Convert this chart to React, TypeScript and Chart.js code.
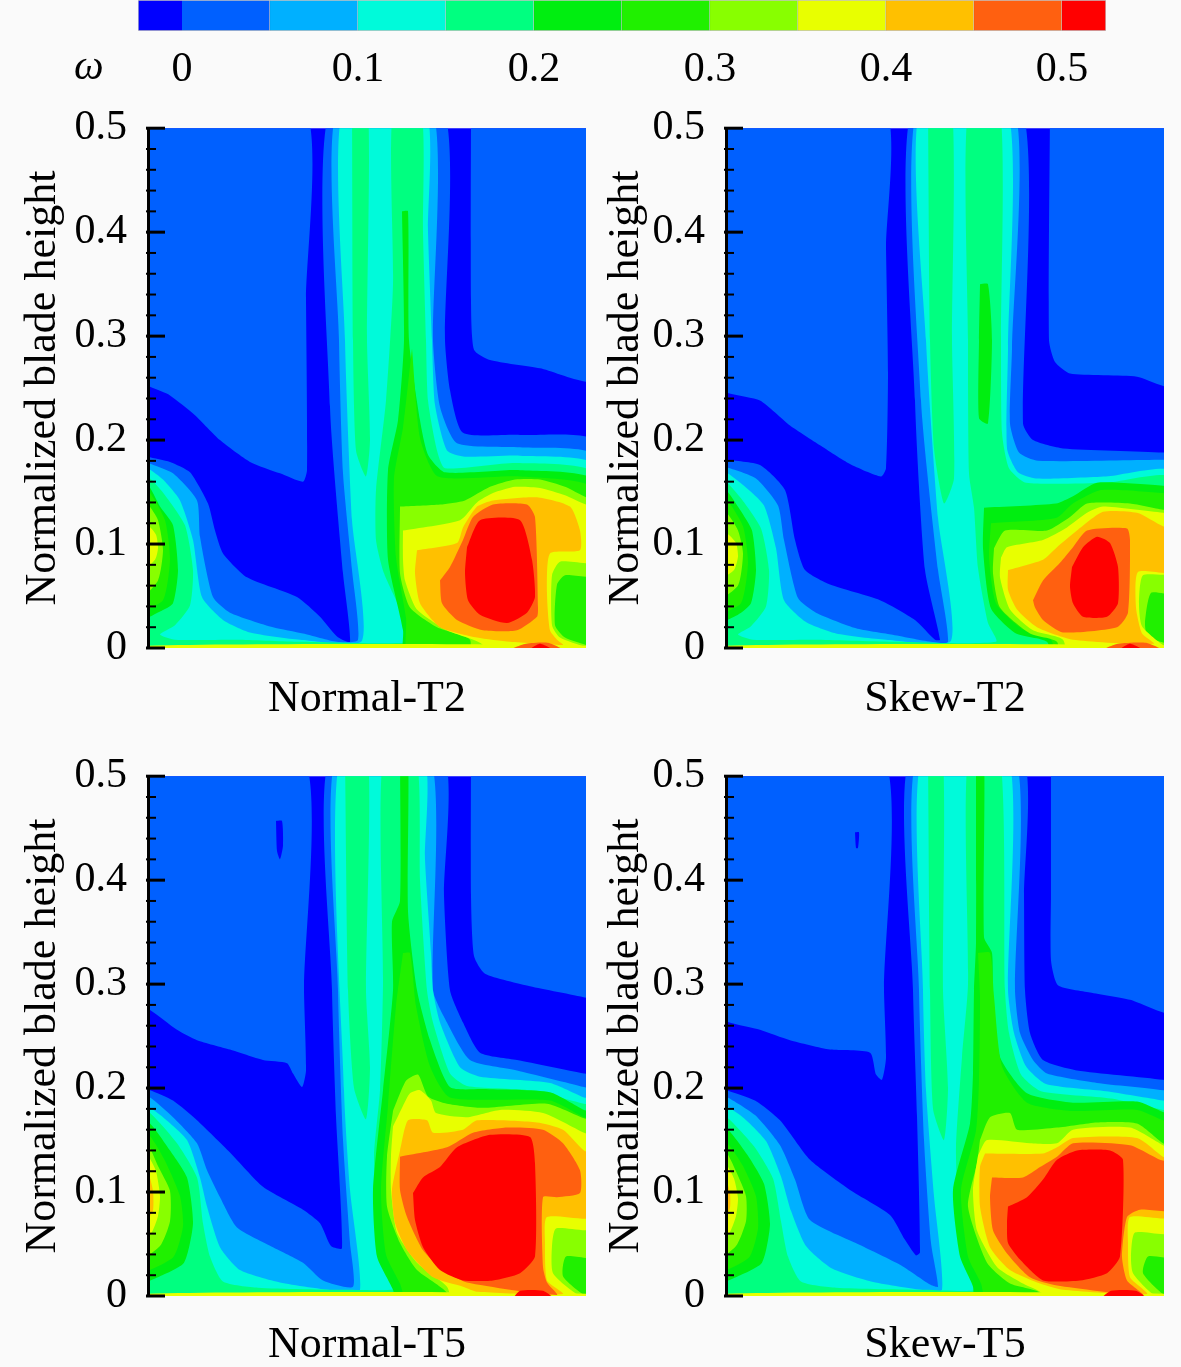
import React, { useEffect, useRef } from "react";
import { Chart, registerables } from "chart.js";

Chart.register(...registerables);

type Pt = [number, number];
type Layer = [number, Pt[]];

const levelColors = ["#0000ff", "#0060ff", "#00b0ff", "#00fada", "#00ff80", "#00ee10", "#20f000", "#88ff00", "#e8ff00", "#ffc000", "#ff6010", "#ff0000"];
const levelLow = [-0.025, 0, 0.05, 0.1, 0.15, 0.2, 0.25, 0.3, 0.35, 0.4, 0.45, 0.5];
const levelHigh = [0, 0.05, 0.1, 0.15, 0.2, 0.25, 0.3, 0.35, 0.4, 0.45, 0.5, 0.525];
const colorbarTicks = [0, 0.1, 0.2, 0.3, 0.4, 0.5];
const yMajorTicks = [0, 0.1, 0.2, 0.3, 0.4, 0.5];
const yMinorTicks = [0.02, 0.04, 0.06, 0.08, 0.12, 0.14, 0.16, 0.18, 0.22, 0.24, 0.26, 0.28, 0.32, 0.34, 0.36, 0.38, 0.42, 0.44, 0.46, 0.48];

const field: Pt[] = [[-10, -0.02], [448, -0.02], [448, 0.52], [-10, 0.52]];
const bottomEdge: Pt[] = [[-10, -0.01], [448, -0.01], [448, 0.002], [-10, 0.002]];

// Normal-T2
const nt2L1a: Pt[] = [[-10, 0.519], [156, 0.519], [158, 0.335], [159, 0.171], [155, 0.16], [132, 0.168], [102, 0.179], [72, 0.2], [47, 0.224], [22, 0.243], [-10, 0.26]];
const nt2L1b: Pt[] = [[323, 0.519], [323, 0.335], [326, 0.287], [342, 0.277], [392, 0.269], [448, 0.258], [448, 0.519]];
const nt2L1: Pt[] = [[-10, 0.188], [0, 0.184], [22, 0.179], [42, 0.169], [60, 0.139], [67, 0.113], [75, 0.091], [99, 0.068], [149, 0.049], [172, 0.03], [189, 0.011], [202, 0.006], [195, 0.072], [182, 0.232], [182, 0.519], [295, 0.519], [297, 0.296], [302, 0.248], [315, 0.207], [372, 0.205], [448, 0.198], [448, -0.02], [-10, -0.02]];
const nt2L2: Pt[] = [[-10, 0.18], [0, 0.178], [25, 0.168], [49, 0.142], [52, 0.107], [65, 0.049], [82, 0.034], [125, 0.02], [155, 0.014], [189, 0.006], [210, 0.008], [204, 0.075], [195, 0.168], [191, 0.296], [189, 0.519], [284, 0.519], [285, 0.296], [292, 0.232], [309, 0.197], [372, 0.193], [448, 0.184], [448, -0.02], [-10, -0.02]];
const nt2L3: Pt[] = [[-10, 0.175], [0, 0.173], [15, 0.162], [32, 0.142], [45, 0.104], [54, 0.049], [75, 0.027], [102, 0.015], [152, 0.008], [214, 0.007], [204, 0.123], [197, 0.296], [195, 0.519], [277, 0.519], [280, 0.4], [284, 0.296], [287, 0.234], [299, 0.19], [317, 0.184], [372, 0.185], [448, 0.175], [448, -0.02], [-10, -0.02]];
const nt2L4s: Pt[] = [[204, 0.519], [220, 0.519], [219, 0.296], [222, 0.2], [218, 0.165], [208, 0.19], [205, 0.296]];
const nt2L4: Pt[] = [[-10, 0.165], [2, 0.163], [17, 0.147], [37, 0.118], [45, 0.075], [42, 0.041], [27, 0.022], [12, 0.013], [27, 0.008], [92, 0.008], [152, 0.006], [267, 0.006], [259, 0.024], [236, 0.072], [228, 0.104], [228, 0.152], [238, 0.238], [245, 0.35], [245, 0.519], [273, 0.519], [275, 0.4], [278, 0.296], [280, 0.238], [289, 0.19], [297, 0.173], [369, 0.178], [448, 0.167], [448, -0.02], [-10, -0.02]];
const nt2L5h: Pt[] = [[-10, 0.159], [0, 0.157], [12, 0.136], [25, 0.118], [30, 0.075], [25, 0.043], [12, 0.035], [-10, 0.027]];
const nt2L5c: Pt[] = [[254, 0.42], [260, 0.42], [261, 0.296], [272, 0.219], [280, 0.186], [297, 0.169], [372, 0.171], [448, 0.16], [448, -0.02], [257, -0.02], [255, 0.017], [240, 0.085], [240, 0.171], [250, 0.219], [256, 0.296]];
const nt2L6h: Pt[] = [[-10, 0.154], [0, 0.152], [17, 0.123], [22, 0.085], [15, 0.046], [-10, 0.037]];
const nt2L6c: Pt[] = [[264, 0.288], [272, 0.202], [290, 0.165], [372, 0.165], [448, 0.152], [448, -0.02], [262, -0.02], [258, 0.029], [248, 0.087], [246, 0.163], [255, 0.212]];
const nt2L7h: Pt[] = [[-10, 0.142], [0, 0.138], [10, 0.123], [15, 0.094], [10, 0.065], [-10, 0.046]];
const nt2L7c: Pt[] = [[252, 0.136], [292, 0.138], [317, 0.142], [342, 0.155], [367, 0.162], [392, 0.162], [417, 0.155], [438, 0.145], [448, 0.144], [448, 0.07], [417, 0.07], [409, 0.061], [407, 0.022], [417, 0.01], [438, 0.003], [448, 0.001], [448, -0.02], [322, -0.02], [322, 0.008], [289, 0.02], [262, 0.039], [252, 0.072]];
const nt2L8h: Pt[] = [[-10, 0.12], [0, 0.118], [8, 0.109], [10, 0.096], [7, 0.085], [-10, 0.072]];
const nt2L8c: Pt[] = [[255, 0.113], [312, 0.123], [329, 0.14], [345, 0.149], [367, 0.155], [392, 0.154], [417, 0.147], [438, 0.138], [448, 0.137], [448, 0.083], [412, 0.083], [404, 0.07], [404, 0.022], [412, 0.01], [438, 0.001], [448, 0], [448, -0.02], [335, -0.02], [335, 0.003], [299, 0.017], [269, 0.037], [257, 0.065], [255, 0.085]];
const nt2L9: Pt[] = [[269, 0.094], [309, 0.101], [315, 0.116], [329, 0.136], [345, 0.142], [389, 0.145], [422, 0.136], [432, 0.113], [432, 0.094], [402, 0.091], [399, 0.053], [402, 0.017], [409, 0.008], [415, 0.003], [362, 0.006], [329, 0.01], [292, 0.02], [272, 0.043], [267, 0.072]];
const nt2L10: Pt[] = [[292, 0.065], [302, 0.078], [315, 0.104], [325, 0.126], [345, 0.138], [379, 0.138], [387, 0.126], [390, 0.039], [389, 0.03], [369, 0.017], [335, 0.017], [309, 0.027], [294, 0.043]];
const nt2L11: Pt[] = [[319, 0.097], [332, 0.123], [372, 0.123], [384, 0.085], [387, 0.049], [379, 0.034], [359, 0.024], [332, 0.032], [320, 0.046], [317, 0.072]];
const nt2Spot10: Pt[] = [[360, -0.002], [378, 0.004], [400, 0.005], [415, -0.002]];
const nt2Spot11: Pt[] = [[380, -0.002], [392, 0.004], [405, -0.002]];

// Skew-T2
const st2L1a: Pt[] = [[-10, 0.519], [158, 0.519], [160, 0.385], [162, 0.264], [160, 0.173], [155, 0.165], [124, 0.177], [94, 0.195], [64, 0.214], [34, 0.238], [-10, 0.252]];
const st2L1b: Pt[] = [[324, 0.519], [323, 0.296], [329, 0.275], [344, 0.264], [411, 0.261], [448, 0.252], [448, 0.519]];
const st2L1: Pt[] = [[-10, 0.183], [0, 0.181], [34, 0.176], [59, 0.152], [69, 0.104], [79, 0.075], [104, 0.061], [154, 0.046], [189, 0.027], [209, 0.008], [214, 0.008], [199, 0.075], [189, 0.238], [186, 0.519], [296, 0.519], [297, 0.216], [307, 0.2], [337, 0.192], [437, 0.188], [448, 0.186], [448, -0.02], [-10, -0.02]];
const st2L2: Pt[] = [[-10, 0.176], [0, 0.174], [30, 0.163], [52, 0.137], [58, 0.104], [72, 0.048], [90, 0.034], [130, 0.019], [165, 0.013], [205, 0.006], [222, 0.006], [212, 0.075], [195, 0.238], [191, 0.519], [288, 0.519], [286, 0.288], [284, 0.216], [293, 0.188], [312, 0.18], [437, 0.181], [448, 0.18], [448, -0.02], [-10, -0.02]];
const st2L3: Pt[] = [[-10, 0.171], [0, 0.169], [18, 0.156], [38, 0.137], [50, 0.096], [58, 0.046], [80, 0.025], [110, 0.014], [160, 0.008], [225, 0.007], [212, 0.125], [200, 0.296], [194, 0.519], [281, 0.519], [282, 0.288], [281, 0.192], [292, 0.169], [310, 0.163], [380, 0.165], [448, 0.169], [448, -0.02], [-10, -0.02]];
const st2L4s: Pt[] = [[202, 0.519], [226, 0.519], [226, 0.296], [228, 0.163], [218, 0.139], [208, 0.192], [204, 0.296]];
const st2L4: Pt[] = [[-10, 0.162], [0, 0.16], [15, 0.144], [35, 0.115], [43, 0.075], [40, 0.04], [25, 0.021], [12, 0.013], [27, 0.008], [92, 0.008], [170, 0.006], [270, 0.006], [262, 0.024], [252, 0.077], [248, 0.135], [243, 0.168], [242, 0.296], [242, 0.519], [274, 0.519], [275, 0.296], [276, 0.207], [283, 0.173], [300, 0.159], [380, 0.159], [448, 0.163], [448, -0.02], [-10, -0.02]];
const st2L5h: Pt[] = [[-10, 0.154], [0, 0.152], [14, 0.133], [26, 0.113], [30, 0.075], [25, 0.043], [12, 0.032], [-10, 0.025]];
const st2L5s: Pt[] = [[254, 0.35], [262, 0.35], [266, 0.296], [262, 0.216], [253, 0.221], [253, 0.296]];
const st2L5c: Pt[] = [[258, 0.135], [330, 0.139], [347, 0.146], [371, 0.159], [437, 0.156], [448, 0.154], [448, -0.02], [330, -0.02], [321, 0.006], [290, 0.014], [265, 0.038], [257, 0.096]];
const st2L6h: Pt[] = [[-10, 0.147], [0, 0.144], [17, 0.117], [22, 0.082], [15, 0.043], [-10, 0.034]];
const st2L6c: Pt[] = [[265, 0.12], [330, 0.125], [347, 0.139], [375, 0.152], [437, 0.149], [448, 0.146], [448, -0.02], [335, -0.02], [325, 0.008], [295, 0.019], [270, 0.043], [263, 0.087]];
const st2L7h: Pt[] = [[-10, 0.135], [0, 0.131], [12, 0.113], [17, 0.091], [12, 0.06], [-10, 0.046]];
const st2L7c: Pt[] = [[268, 0.096], [279, 0.113], [321, 0.113], [344, 0.126], [361, 0.139], [404, 0.139], [437, 0.133], [448, 0.133], [448, 0.053], [425, 0.053], [419, 0.024], [422, 0.01], [448, 0.001], [448, -0.02], [335, -0.02], [331, 0.006], [304, 0.014], [274, 0.039], [267, 0.072]];
const st2L8h: Pt[] = [[-10, 0.113], [0, 0.111], [10, 0.101], [12, 0.088], [8, 0.075], [-10, 0.065]];
const st2L8c: Pt[] = [[275, 0.087], [281, 0.097], [317, 0.104], [341, 0.116], [361, 0.13], [377, 0.136], [437, 0.13], [448, 0.129], [448, 0.072], [417, 0.07], [413, 0.043], [416, 0.021], [437, 0.003], [448, 0], [448, -0.02], [345, -0.02], [337, 0.008], [307, 0.017], [284, 0.037], [274, 0.068]];
const st2L9: Pt[] = [[282, 0.075], [317, 0.085], [331, 0.097], [351, 0.113], [377, 0.131], [411, 0.13], [437, 0.117], [448, 0.115], [448, 0.073], [412, 0.073], [410, 0.039], [416, 0.014], [428, 0.004], [347, 0.008], [311, 0.02], [291, 0.037], [282, 0.056]];
const st2L10: Pt[] = [[307, 0.046], [317, 0.065], [334, 0.082], [347, 0.097], [361, 0.113], [401, 0.115], [404, 0.104], [402, 0.034], [391, 0.02], [337, 0.015], [317, 0.027], [309, 0.039]];
const st2L11: Pt[] = [[346, 0.078], [357, 0.097], [371, 0.107], [384, 0.101], [392, 0.078], [392, 0.043], [381, 0.03], [357, 0.03], [347, 0.043], [344, 0.059]];
const st2Spot10: Pt[] = [[375, -0.002], [392, 0.004], [420, 0.005], [436, -0.002]];
const st2Spot11: Pt[] = [[392, -0.002], [404, 0.004], [417, -0.002]];

// Normal-T5
const nt5L1a: Pt[] = [[-10, 0.519], [155, 0.519], [156, 0.294], [158, 0.217], [154, 0.201], [145, 0.214], [139, 0.224], [115, 0.227], [82, 0.237], [49, 0.246], [29, 0.256], [2, 0.275], [-10, 0.279]];
const nt5Hole: Pt[] = [[128, 0.457], [134, 0.457], [135, 0.433], [132, 0.42], [129, 0.428]];
const nt5L1b: Pt[] = [[323, 0.519], [323, 0.385], [326, 0.327], [337, 0.31], [382, 0.298], [438, 0.287], [448, 0.283], [448, 0.519]];
const nt5L1: Pt[] = [[-10, 0.2], [2, 0.198], [25, 0.188], [49, 0.169], [82, 0.138], [115, 0.105], [155, 0.083], [172, 0.07], [183, 0.048], [194, 0.046], [188, 0.173], [184, 0.294], [182, 0.519], [295, 0.519], [296, 0.385], [302, 0.294], [315, 0.263], [332, 0.234], [369, 0.227], [436, 0.214], [448, 0.212], [448, -0.02], [-10, -0.02]];
const nt5L2: Pt[] = [[-10, 0.192], [2, 0.191], [25, 0.172], [49, 0.147], [59, 0.121], [72, 0.095], [89, 0.066], [125, 0.047], [155, 0.032], [175, 0.015], [205, 0.009], [202, 0.051], [195, 0.15], [190, 0.294], [188, 0.519], [282, 0.519], [285, 0.294], [299, 0.263], [322, 0.227], [369, 0.217], [436, 0.201], [448, 0.197], [448, -0.02], [-10, -0.02]];
const nt5L3: Pt[] = [[-10, 0.183], [0, 0.182], [15, 0.172], [39, 0.15], [52, 0.114], [59, 0.086], [72, 0.047], [92, 0.025], [132, 0.013], [189, 0.005], [212, 0.006], [202, 0.102], [196, 0.198], [192, 0.519], [275, 0.519], [277, 0.42], [283, 0.33], [285, 0.294], [292, 0.263], [312, 0.22], [332, 0.211], [402, 0.205], [436, 0.191], [448, 0.188], [448, -0.02], [-10, -0.02]];
const nt5L4s: Pt[] = [[197, 0.519], [220, 0.519], [218, 0.294], [222, 0.22], [218, 0.17], [206, 0.2], [200, 0.294]];
const nt5L4: Pt[] = [[-10, 0.178], [2, 0.176], [29, 0.147], [49, 0.114], [55, 0.07], [62, 0.038], [75, 0.014], [110, 0.008], [200, 0.006], [252, 0.008], [232, 0.038], [229, 0.07], [226, 0.135], [232, 0.198], [235, 0.3], [235, 0.519], [268, 0.519], [272, 0.4], [279, 0.294], [285, 0.263], [302, 0.214], [319, 0.202], [380, 0.198], [436, 0.185], [448, 0.181], [448, -0.02], [-10, -0.02]];
const nt5L5h: Pt[] = [[-10, 0.168], [2, 0.166], [22, 0.14], [39, 0.114], [45, 0.07], [36, 0.032], [12, 0.019], [-10, 0.013]];
const nt5L5c: Pt[] = [[252, 0.519], [260, 0.519], [260, 0.37], [269, 0.294], [282, 0.246], [302, 0.201], [335, 0.199], [402, 0.196], [436, 0.179], [448, 0.176], [448, -0.019], [252, -0.019], [245, 0.006], [229, 0.038], [225, 0.102], [235, 0.198], [245, 0.294], [244, 0.36], [252, 0.38]];
const nt5L6h: Pt[] = [[-10, 0.159], [2, 0.154], [17, 0.13], [32, 0.096], [35, 0.067], [25, 0.037], [-10, 0.024]];
const nt5L6c: Pt[] = [[255, 0.33], [262, 0.33], [268, 0.279], [282, 0.221], [302, 0.191], [402, 0.188], [436, 0.172], [448, 0.169], [448, -0.019], [265, -0.019], [252, 0.012], [238, 0.04], [233, 0.102], [240, 0.183], [248, 0.279]];
const nt5L7h: Pt[] = [[-10, 0.152], [0, 0.146], [10, 0.125], [22, 0.101], [22, 0.072], [12, 0.048], [-10, 0.035]];
const nt5L7c: Pt[] = [[245, 0.178], [258, 0.207], [270, 0.213], [280, 0.192], [299, 0.185], [335, 0.181], [399, 0.185], [436, 0.171], [448, 0.168], [448, 0.038], [418, 0.038], [415, 0.019], [436, 0.001], [448, 0], [448, -0.019], [300, -0.019], [299, 0.003], [269, 0.025], [252, 0.051], [239, 0.086], [239, 0.134]];
const nt5L8h: Pt[] = [[-10, 0.139], [0, 0.135], [8, 0.12], [12, 0.096], [10, 0.077], [3, 0.06], [-10, 0.053]];
const nt5L8c: Pt[] = [[245, 0.163], [255, 0.183], [262, 0.195], [272, 0.198], [283, 0.188], [288, 0.176], [319, 0.172], [352, 0.179], [395, 0.176], [436, 0.157], [448, 0.152], [448, 0.065], [408, 0.065], [404, 0.048], [405, 0.022], [429, 0.002], [448, 0], [448, -0.019], [310, -0.019], [299, 0.009], [269, 0.032], [249, 0.061], [243, 0.102], [243, 0.135]];
const nt5L9h: Pt[] = [[-10, 0.12], [0, 0.118], [5, 0.101], [5, 0.082], [0, 0.075], [-10, 0.072]];
const nt5L9c: Pt[] = [[252, 0.14], [260, 0.169], [279, 0.169], [285, 0.157], [315, 0.16], [329, 0.169], [389, 0.167], [415, 0.16], [436, 0.14], [448, 0.135], [448, 0.076], [399, 0.076], [397, 0.051], [399, 0.015], [415, 0.002], [330, 0.004], [315, 0.009], [285, 0.018], [259, 0.044], [247, 0.07], [244, 0.102]];
const nt5L10: Pt[] = [[252, 0.134], [299, 0.143], [325, 0.157], [359, 0.162], [395, 0.16], [415, 0.147], [432, 0.121], [432, 0.099], [409, 0.095], [395, 0.095], [395, 0.028], [399, 0.013], [409, 0.001], [319, 0.013], [295, 0.025], [275, 0.044], [259, 0.076], [252, 0.102]];
const nt5L11: Pt[] = [[265, 0.099], [275, 0.114], [292, 0.124], [309, 0.143], [342, 0.155], [382, 0.153], [387, 0.128], [387, 0.038], [372, 0.022], [345, 0.015], [315, 0.015], [292, 0.025], [275, 0.047], [267, 0.073]];
const nt5Spot11: Pt[] = [[365, -0.002], [372, 0.005], [395, 0.005], [405, -0.002]];

// Skew-T5
const st5L1a: Pt[] = [[-10, 0.519], [157, 0.519], [158, 0.294], [160, 0.229], [156, 0.208], [150, 0.213], [144, 0.234], [104, 0.237], [64, 0.246], [34, 0.256], [-10, 0.271]];
const st5Hole: Pt[] = [[129, 0.446], [133, 0.446], [132, 0.431], [130, 0.431]];
const st5L1b: Pt[] = [[325, 0.519], [325, 0.385], [325, 0.323], [332, 0.299], [364, 0.292], [404, 0.285], [448, 0.273], [448, 0.519]];
const st5L1: Pt[] = [[-10, 0.2], [0, 0.198], [29, 0.188], [54, 0.169], [84, 0.131], [124, 0.102], [164, 0.078], [179, 0.054], [190, 0.039], [194, 0.042], [191, 0.173], [187, 0.294], [184, 0.519], [296, 0.519], [298, 0.385], [299, 0.294], [304, 0.253], [317, 0.227], [351, 0.217], [437, 0.208], [448, 0.204], [448, -0.019], [-10, -0.019]];
const st5L2: Pt[] = [[-10, 0.194], [0, 0.192], [29, 0.174], [54, 0.145], [69, 0.112], [84, 0.073], [134, 0.049], [174, 0.03], [204, 0.011], [212, 0.009], [205, 0.051], [198, 0.15], [193, 0.294], [191, 0.519], [289, 0.519], [289, 0.294], [294, 0.253], [307, 0.227], [321, 0.214], [371, 0.205], [437, 0.198], [448, 0.194], [448, -0.019], [-10, -0.019]];
const st5L3: Pt[] = [[-10, 0.185], [0, 0.183], [18, 0.171], [40, 0.149], [55, 0.115], [65, 0.082], [80, 0.048], [105, 0.027], [145, 0.014], [195, 0.006], [216, 0.006], [208, 0.096], [200, 0.198], [197, 0.294], [196, 0.519], [282, 0.519], [282, 0.294], [288, 0.253], [300, 0.221], [320, 0.204], [380, 0.197], [437, 0.188], [448, 0.185], [448, -0.019], [-10, -0.019]];
const st5L4s: Pt[] = [[202, 0.519], [217, 0.519], [217, 0.294], [222, 0.2], [218, 0.15], [207, 0.18], [204, 0.294]];
const st5L4: Pt[] = [[-10, 0.175], [2, 0.171], [28, 0.144], [47, 0.113], [55, 0.072], [62, 0.038], [75, 0.014], [110, 0.008], [200, 0.006], [250, 0.006], [240, 0.024], [232, 0.087], [230, 0.144], [236, 0.23], [242, 0.3], [242, 0.519], [274, 0.519], [279, 0.294], [283, 0.253], [295, 0.213], [315, 0.197], [385, 0.19], [437, 0.179], [448, 0.176], [448, -0.019], [-10, -0.019]];
const st5L5h: Pt[] = [[-10, 0.163], [2, 0.16], [22, 0.135], [38, 0.108], [44, 0.069], [36, 0.032], [12, 0.019], [-10, 0.013]];
const st5L5c: Pt[] = [[250, 0.519], [258, 0.519], [258, 0.345], [266, 0.33], [267, 0.294], [274, 0.23], [301, 0.195], [347, 0.186], [411, 0.187], [437, 0.177], [448, 0.174], [448, -0.019], [250, -0.019], [247, 0.009], [234, 0.038], [227, 0.102], [244, 0.166], [247, 0.214], [248, 0.294], [250, 0.34]];
const st5L6h: Pt[] = [[-10, 0.152], [2, 0.146], [17, 0.125], [30, 0.096], [32, 0.065], [23, 0.037], [-10, 0.024]];
const st5L6c: Pt[] = [[252, 0.33], [264, 0.33], [268, 0.288], [276, 0.221], [301, 0.186], [347, 0.178], [411, 0.179], [437, 0.169], [448, 0.165], [448, -0.019], [265, -0.019], [255, 0.012], [242, 0.038], [235, 0.102], [250, 0.159], [253, 0.207], [254, 0.288]];
const st5L7h: Pt[] = [[-10, 0.144], [0, 0.139], [10, 0.12], [20, 0.096], [20, 0.072], [10, 0.048], [-10, 0.035]];
const st5L7c: Pt[] = [[254, 0.15], [264, 0.172], [284, 0.176], [291, 0.16], [331, 0.162], [371, 0.167], [411, 0.166], [437, 0.147], [448, 0.142], [448, 0.038], [422, 0.038], [417, 0.022], [437, 0.002], [448, 0], [448, -0.019], [315, -0.019], [314, 0.003], [284, 0.012], [261, 0.032], [242, 0.086], [251, 0.128]];
const st5L8h: Pt[] = [[-10, 0.133], [0, 0.127], [8, 0.113], [12, 0.094], [10, 0.077], [3, 0.06], [-10, 0.053]];
const st5L8c: Pt[] = [[252, 0.135], [261, 0.15], [304, 0.147], [331, 0.147], [347, 0.16], [404, 0.162], [437, 0.145], [448, 0.14], [448, 0.061], [409, 0.061], [405, 0.038], [407, 0.022], [427, 0.002], [448, 0], [448, -0.019], [325, -0.019], [317, 0.002], [297, 0.012], [271, 0.028], [251, 0.063], [247, 0.102]];
const st5L9h: Pt[] = [[-10, 0.113], [0, 0.111], [4, 0.099], [4, 0.085], [0, 0.077], [-10, 0.073]];
const st5L9c: Pt[] = [[259, 0.137], [317, 0.137], [331, 0.143], [347, 0.152], [411, 0.152], [437, 0.134], [448, 0.13], [448, 0.076], [404, 0.076], [402, 0.051], [404, 0.018], [421, 0.002], [337, 0.006], [314, 0.012], [284, 0.025], [264, 0.047], [254, 0.086], [254, 0.124]];
const st5L10: Pt[] = [[266, 0.114], [297, 0.114], [314, 0.124], [331, 0.134], [347, 0.147], [404, 0.145], [434, 0.131], [448, 0.127], [448, 0.083], [414, 0.083], [401, 0.076], [396, 0.038], [401, 0.015], [417, 0.001], [331, 0.01], [304, 0.018], [281, 0.041], [267, 0.063], [264, 0.095]];
const st5L11: Pt[] = [[282, 0.086], [301, 0.095], [317, 0.112], [331, 0.131], [351, 0.14], [384, 0.14], [397, 0.131], [394, 0.038], [381, 0.022], [354, 0.015], [317, 0.015], [294, 0.035], [282, 0.051], [281, 0.07]];
const st5Spot11: Pt[] = [[375, -0.002], [385, 0.005], [410, 0.005], [420, -0.002]];

const normalT2Layers: Layer[] = [[0, field], [1, nt2L1a], [1, nt2L1b], [1, nt2L1], [2, nt2L2], [3, nt2L3], [4, nt2L4s], [4, nt2L4], [5, nt2L5h], [5, nt2L5c], [6, nt2L6h], [6, nt2L6c], [7, nt2L7h], [7, nt2L7c], [8, nt2L8h], [8, nt2L8c], [8, bottomEdge], [9, nt2L9], [10, nt2L10], [11, nt2L11], [10, nt2Spot10], [11, nt2Spot11]];
const skewT2Layers: Layer[] = [[0, field], [1, st2L1a], [1, st2L1b], [1, st2L1], [2, st2L2], [3, st2L3], [4, st2L4s], [4, st2L4], [5, st2L5h], [5, st2L5s], [5, st2L5c], [6, st2L6h], [6, st2L6c], [7, st2L7h], [7, st2L7c], [8, st2L8h], [8, st2L8c], [8, bottomEdge], [9, st2L9], [10, st2L10], [11, st2L11], [10, st2Spot10], [11, st2Spot11]];
const normalT5Layers: Layer[] = [[0, field], [1, nt5L1a], [0, nt5Hole], [1, nt5L1b], [1, nt5L1], [2, nt5L2], [3, nt5L3], [4, nt5L4s], [4, nt5L4], [5, nt5L5h], [5, nt5L5c], [6, nt5L6h], [6, nt5L6c], [7, nt5L7h], [7, nt5L7c], [8, nt5L8h], [8, nt5L8c], [8, bottomEdge], [9, nt5L9h], [9, nt5L9c], [10, nt5L10], [11, nt5L11], [11, nt5Spot11]];
const skewT5Layers: Layer[] = [[0, field], [1, st5L1a], [0, st5Hole], [1, st5L1b], [1, st5L1], [2, st5L2], [3, st5L3], [4, st5L4s], [4, st5L4], [5, st5L5h], [5, st5L5c], [6, st5L6h], [6, st5L6c], [7, st5L7h], [7, st5L7c], [8, st5L8h], [8, st5L8c], [8, bottomEdge], [9, st5L9h], [9, st5L9c], [10, st5L10], [11, st5L11], [11, st5Spot11]];

const serif = "'Liberation Serif', 'Times New Roman', serif";
const tickFontSize = 42;
const titleFontSize = 44;

const innerTicks = {
  id: "innerTicks",
  afterDatasetsDraw(chart: any) {
    const { ctx, chartArea, scales } = chart;
    const y = scales.y;
    ctx.save();
    ctx.strokeStyle = "#000";
    ctx.lineWidth = 3;
    for (const v of yMajorTicks) {
      const p = y.getPixelForValue(v);
      ctx.beginPath();
      ctx.moveTo(chartArea.left - 2, p);
      ctx.lineTo(chartArea.left + 17, p);
      ctx.stroke();
    }
    ctx.lineWidth = 2;
    for (const v of yMinorTicks) {
      const p = y.getPixelForValue(v);
      ctx.beginPath();
      ctx.moveTo(chartArea.left - 2, p);
      ctx.lineTo(chartArea.left + 8, p);
      ctx.stroke();
    }
    ctx.restore();
  },
};

function Panel(props: { layers: Layer[]; title: string; left: number; top: number; width: number; height: number; axisWidth: number; titleGap: number; areaBottom: number }) {
  const ref = useRef<HTMLCanvasElement>(null);
  useEffect(() => {
    const { layers, title, axisWidth, titleGap, height, width, areaBottom } = props;
    const datasets = [...layers].reverse().map(([level, pts]) => ({
      data: [...pts, pts[0]].map(([x, y]) => ({ x, y })),
      showLine: true,
      fill: "shape" as const,
      backgroundColor: levelColors[level],
      borderColor: "transparent",
      borderWidth: 0,
      pointRadius: 0,
      tension: 0.2,
    }));
    const chart = new Chart(ref.current!, {
      type: "scatter",
      data: { datasets },
      plugins: [innerTicks],
      options: {
        animation: false,
        responsive: false,
        layout: { padding: { top: 28, right: width - axisWidth - 438, left: 0, bottom: 0 } },
        plugins: { legend: { display: false }, tooltip: { enabled: false } },
        scales: {
          x: {
            type: "linear",
            min: 0,
            max: 438,
            grid: { display: false },
            border: { display: false },
            ticks: { display: false },
            title: { display: true, text: title, color: "#000", font: { family: serif, size: titleFontSize, lineHeight: 1.2 }, padding: 0 },
            afterFit(scale: any) {
              scale.height = height - areaBottom;
            },
          },
          y: {
            type: "linear",
            min: 0,
            max: 0.5,
            grid: { display: false },
            border: { display: true, color: "#000", width: 3, z: 1 },
            afterBuildTicks(scale: any) {
              scale.ticks = yMajorTicks.map((value) => ({ value }));
            },
            ticks: { color: "#000", padding: 13, font: { family: serif, size: tickFontSize }, callback: (v: any) => String(v) },
            title: { display: true, text: "Normalized blade height", color: "#000", font: { family: serif, size: titleFontSize, lineHeight: 1.2 }, padding: { top: titleGap, bottom: 0 } },
            afterFit(scale: any) {
              scale.width = axisWidth;
            },
          },
        },
      },
    } as any);
    return () => chart.destroy();
  }, []);
  return <canvas ref={ref} width={props.width} height={props.height} style={{ position: "absolute", left: props.left, top: props.top, width: props.width, height: props.height }} />;
}

function Colorbar() {
  const ref = useRef<HTMLCanvasElement>(null);
  useEffect(() => {
    const datasets = levelColors.map((color, i) => ({
      data: [[levelLow[i], levelHigh[i]]],
      backgroundColor: color,
      borderColor: "rgba(0,0,0,0.22)",
      borderWidth: 1,
      barPercentage: 1,
      categoryPercentage: 1,
      grouped: false,
    }));
    const chart = new Chart(ref.current!, {
      type: "bar",
      data: { labels: ["ω"], datasets },
      options: {
        indexAxis: "y",
        animation: false,
        responsive: false,
        layout: { padding: { left: 138, right: 75, top: 0, bottom: 0 } },
        plugins: { legend: { display: false }, tooltip: { enabled: false } },
        scales: {
          x: {
            type: "linear",
            min: -0.025,
            max: 0.525,
            grid: { display: false },
            border: { display: false },
            afterBuildTicks(scale: any) {
              scale.ticks = colorbarTicks.map((value) => ({ value }));
            },
            ticks: { color: "#000", padding: 6, maxRotation: 0, font: { family: serif, size: tickFontSize }, callback: (v: any) => String(v) },
            afterFit(scale: any) {
              scale.height = 69;
            },
          },
          y: { display: false },
        },
      },
    } as any);
    return () => chart.destroy();
  }, []);
  return <canvas ref={ref} width={1181} height={100} style={{ position: "absolute", left: 0, top: 0, width: 1181, height: 100 }} />;
}

export default function App() {
  return (
    <div style={{ position: "absolute", left: 0, top: 0, width: 1181, height: 1367, overflow: "hidden", background: "#fafafa" }}>
      <Colorbar />
      <div style={{ position: "absolute", left: 74, top: 40, fontFamily: serif, fontStyle: "italic", fontSize: 42, lineHeight: "50px", color: "#000" }}>ω</div>
      <Panel layers={normalT2Layers} title="Normal-T2" left={0} top={90} width={600} height={636} axisWidth={148} titleGap={17} areaBottom={558} />
      <Panel layers={skewT2Layers} title="Skew-T2" left={580} top={90} width={600} height={636} axisWidth={146} titleGap={20} areaBottom={558} />
      <Panel layers={normalT5Layers} title="Normal-T5" left={0} top={738} width={600} height={634} axisWidth={148} titleGap={17} areaBottom={558} />
      <Panel layers={skewT5Layers} title="Skew-T5" left={580} top={738} width={600} height={634} axisWidth={146} titleGap={20} areaBottom={558} />
    </div>
  );
}
